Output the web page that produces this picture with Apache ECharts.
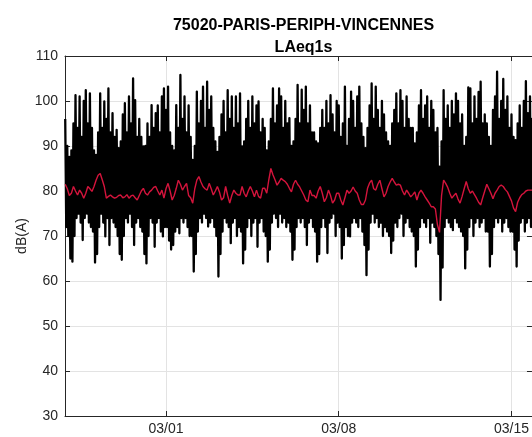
<!DOCTYPE html>
<html><head><meta charset="utf-8">
<script src="https://cdn.jsdelivr.net/npm/echarts@6/dist/echarts.min.js"></script>
<style>html,body{margin:0;padding:0;background:#fff}#c{width:532px;height:437px}</style>
</head><body><div id="c"></div>
<script>
const titleText = '75020-PARIS-PERIPH-VINCENNES';
const subtitleText = 'LAeq1s';
const yAxisName = 'dB(A)';
// samples every 2 hours starting 2020-02-25 22:00
const startTime = Date.UTC(2020, 1, 25, 22, 0);
const stepHours = 2;
const xMin = Date.UTC(2020, 1, 25, 21, 47);
const xMax = Date.UTC(2020, 2, 15, 19, 55);
const xTickDates = [Date.UTC(2020, 2, 1), Date.UTC(2020, 2, 8), Date.UTC(2020, 2, 15)];
const yMin = 30, yMax = 110, yStep = 10;

// upper envelope of LAeq1s (dB(A)), one value per 2 h
const hi = [
  96,
  90, 87.6, 89, 95, 101.3, 94, 101, 92, 100, 102.4, 95, 101.7,
  94, 89, 88, 93, 101.7, 94, 99.9, 96, 102.8, 93, 97.3, 92,
  93.6, 89.5, 91, 97, 99.5, 93, 101, 95, 105, 100.2, 92, 96,
  92, 89.9, 90, 95, 92, 99.1, 94, 97.3, 99, 93, 101, 102.8,
  98, 103.2, 93, 90, 89, 99.1, 94, 105.8, 96, 101, 93, 99,
  92, 86.9, 90, 102.1, 95, 100, 103.2, 94, 104.3, 98, 101, 94,
  91, 88.7, 92, 97, 100, 93, 102.4, 96, 101, 94, 101, 95,
  101.7, 89.9, 91, 96, 100, 94, 101, 95, 99, 99.9, 93, 96,
  94, 89, 91, 96, 102.8, 95, 99, 102.8, 101, 94, 100, 95,
  96.2, 90, 91, 96, 103.6, 95, 102.5, 98, 103.2, 95, 99, 93,
  93, 91, 90.6, 94, 98, 94, 100, 95, 101.3, 97, 93, 100,
  99, 92, 95, 103.2, 90, 96, 102.1, 100, 94, 101, 103.2, 95,
  92, 89.5, 94, 99, 103.9, 96, 103.2, 98, 94, 100, 97, 93,
  91, 90, 95, 98, 101.7, 95, 102.4, 100, 94, 101, 96, 94,
  94, 90.6, 93, 99, 102.4, 96, 99, 101, 94, 100, 98, 93,
  94, 85.4, 91, 102.4, 96, 99, 94, 100, 97, 101.7, 100, 95,
  97, 90, 92, 103, 102.8, 95, 101, 96, 102, 104.3, 95, 97,
  95, 92, 90, 98, 101, 106.5, 96, 100, 104.9, 98, 101, 94,
  97, 92, 91.3, 95, 99, 94, 100, 104.4, 97.3, 101, 96
];
// lower envelope of LAeq1s (dB(A)), one value per 2 h
const lo = [
  72,
  70, 65, 64.3, 70, 74, 75, 73, 69.1, 74, 75, 73, 72,
  71, 64.1, 66, 72, 75, 73, 69.9, 74, 68, 74, 73, 72,
  70, 66, 64.7, 70, 74, 73, 75, 72, 68, 73, 74, 72,
  71, 66, 63.9, 70, 74, 73, 67.6, 73, 74, 71, 69.9, 72,
  72, 69, 67, 68, 71, 72, 70.6, 74, 73, 74, 72, 70,
  70, 62.1, 66, 71, 74, 73, 75, 74, 72.1, 73, 74, 72,
  70, 61, 66, 71, 74, 73, 72, 68.4, 73, 74, 70, 72,
  71, 63.9, 67, 72, 74, 70, 73, 74, 67.6, 73, 74, 71,
  70, 64.3, 67, 73, 75, 74, 72, 75, 73, 74, 72, 73,
  71, 64.7, 67, 72, 74, 73, 74, 72, 68, 73, 74, 72,
  71, 64.3, 66, 72, 74, 72, 66.2, 73, 74, 75, 70, 73,
  72, 65, 68, 72, 70, 69.9, 73, 74, 73, 72, 74, 71,
  68, 61.3, 67, 73, 75, 73, 74, 72, 73, 70, 72, 71,
  70, 66.2, 69, 73, 72, 74, 75, 70, 73, 74, 72, 71,
  70, 63.2, 67, 72, 74, 73, 72, 74, 68.5, 73, 72, 70,
  66, 55.8, 63, 72, 74, 73, 72, 71.3, 74, 73, 72, 71,
  70, 62.8, 67, 72, 74, 70, 73, 74, 72, 73, 74, 71,
  71, 63.2, 66, 72, 74, 73, 74, 71, 73, 74, 72, 71,
  71, 67, 63.2, 69, 73, 74, 71, 73, 74, 72, 73
];
// smoothed level (red), one value per 2 h
const red = [
  81.5,
  80.5, 79, 79.5, 81, 80, 79.1, 80.2, 79.5, 78.4, 79.5, 81, 80.5,
  79.9, 81, 82.4, 83.5, 83.9, 82.5, 81, 78.4, 78.8, 79.1, 78.7, 78.4,
  78.6, 79, 79.1, 78.5, 78.7, 79.2, 78.4, 78.9, 79.1, 78.5, 78, 79,
  80, 80.6, 79.5, 79.1, 79.8, 80.2, 80.8, 81, 80, 79.1, 80.2, 78.4,
  80.5, 81.7, 80, 78, 79, 80.6, 82.4, 81.5, 80.2, 81, 81.7, 79,
  78.5, 77.3, 80.5, 82.4, 83.2, 82, 81, 80.5, 80.2, 81.7, 80.5, 79.1,
  80, 81, 79.8, 78, 78.5, 81, 79, 77.3, 79, 80.2, 79.5, 79.1,
  79.1, 81, 79.5, 78.7, 80, 81, 80, 78.7, 80.2, 78.8, 78.4, 80.6,
  80.6, 79.5, 82.5, 85, 83.6, 82.5, 81.3, 82, 82.8, 82.4, 82.1, 81.5,
  80.6, 79.8, 81.5, 82.4, 81.5, 80.9, 80, 79.1, 78, 77.6, 80.2, 79,
  79, 78.4, 80, 81, 79.5, 77.6, 78.5, 80.2, 79, 77.3, 78, 79.5,
  79.5, 78, 76.9, 78.5, 80.2, 79.5, 80, 80.9, 80, 79.5, 78, 77,
  77, 78, 80.6, 81.8, 82.4, 80.5, 80.2, 81.5, 82.4, 80.5, 78.7, 79.5,
  81, 82, 82.8, 82, 81.3, 81.5, 81.3, 80, 79.1, 80.2, 79.5, 78.7,
  79.2, 79.8, 78, 79.5, 80.2, 79.5, 78.7, 78, 77.3, 76.5, 76.5, 76,
  72.5, 70.8, 79, 82.4, 81.7, 80.8, 79.5, 78.4, 79, 79.5, 78.2, 77.3,
  78.8, 80.5, 82.1, 80.5, 79.5, 80, 79.2, 78.4, 77.5, 76.9, 78.5, 80,
  81.5, 80.5, 79.5, 78.3, 79.5, 80.2, 81, 81.3, 81, 80.3, 79.8, 78.8,
  77.8, 76.2, 75.4, 77.5, 78.5, 79.2, 79.5, 80, 80.2, 80.2, 80.2
];

const H = 3600 * 1000;
const times = hi.map((_, i) => startTime + i * stepHours * H);
const blackData = [];
times.forEach((t, i) => { blackData.push([t, hi[i]]); blackData.push([t + H, lo[i]]); });
const redData = times.map((t, i) => [t, red[i]]);

const pad = n => (n < 10 ? '0' : '') + n;
const fmtDate = v => { const d = new Date(v); return pad(d.getUTCMonth() + 1) + '/' + pad(d.getUTCDate()); };

const FONT = 'Liberation Sans, Arial, Helvetica, sans-serif';
const axisCol = '#262626';
const gridCol = '#e3e3e3';

const chart = echarts.init(document.getElementById('c'), null, {renderer: 'canvas'});
chart.setOption({
  animation: false,
  backgroundColor: '#ffffff',
  title: {
    text: titleText + '\n' + subtitleText,
    left: 298.5, top: 10, textAlign: 'center',
    textStyle: {fontFamily: FONT, fontSize: 16, fontWeight: 'bold', color: '#000', lineHeight: 22}
  },
  grid: {left: 65, right: 0, top: 56, bottom: 21, containLabel: false},
  xAxis: [{
    type: 'value', min: xMin, max: xMax, position: 'bottom',
    axisLine: {show: true, onZero: false, lineStyle: {color: axisCol, width: 1}},
    axisTick: {show: true, inside: true, length: 5, customValues: xTickDates, lineStyle: {color: axisCol}},
    axisLabel: {customValues: xTickDates, formatter: fmtDate, margin: 6, color: axisCol, fontFamily: FONT, fontSize: 14},
    splitLine: {show: true, lineStyle: {color: gridCol, width: 1}}
  }, {
    type: 'value', min: xMin, max: xMax, position: 'top',
    axisLine: {show: true, onZero: false, lineStyle: {color: axisCol, width: 1}},
    axisTick: {show: true, inside: true, length: 5, customValues: xTickDates, lineStyle: {color: axisCol}},
    axisLabel: {show: false},
    splitLine: {show: false}
  }],
  yAxis: [{
    type: 'value', min: yMin, max: yMax, interval: yStep, position: 'left',
    name: yAxisName, nameLocation: 'middle', nameGap: 36, nameMoveOverlap: false,
    nameTextStyle: {fontFamily: FONT, fontSize: 14, color: axisCol},
    axisLine: {show: true, onZero: false, lineStyle: {color: axisCol, width: 1}},
    axisTick: {show: true, inside: true, length: 5, lineStyle: {color: axisCol}},
    axisLabel: {margin: 7, color: axisCol, fontFamily: FONT, fontSize: 14},
    splitLine: {show: true, lineStyle: {color: gridCol, width: 1}}
  }, {
    type: 'value', min: yMin, max: yMax, interval: yStep, position: 'right',
    axisLine: {show: true, onZero: false, lineStyle: {color: axisCol, width: 1}},
    axisTick: {show: true, inside: true, length: 5, lineStyle: {color: axisCol}},
    axisLabel: {show: false},
    splitLine: {show: false}
  }],
  series: [{
    type: 'line', name: 'LAeq1s', data: blackData, xAxisIndex: 0, yAxisIndex: 0,
    showSymbol: false, symbol: 'none', clip: true,
    lineStyle: {color: '#000000', width: 2.3, join: 'round'}, z: 2
  }, {
    type: 'line', name: 'smooth', data: redData, xAxisIndex: 0, yAxisIndex: 0,
    showSymbol: false, symbol: 'none', clip: true,
    lineStyle: {color: '#d4143c', width: 1.4}, z: 3
  }]
});
</script>
</body></html>
